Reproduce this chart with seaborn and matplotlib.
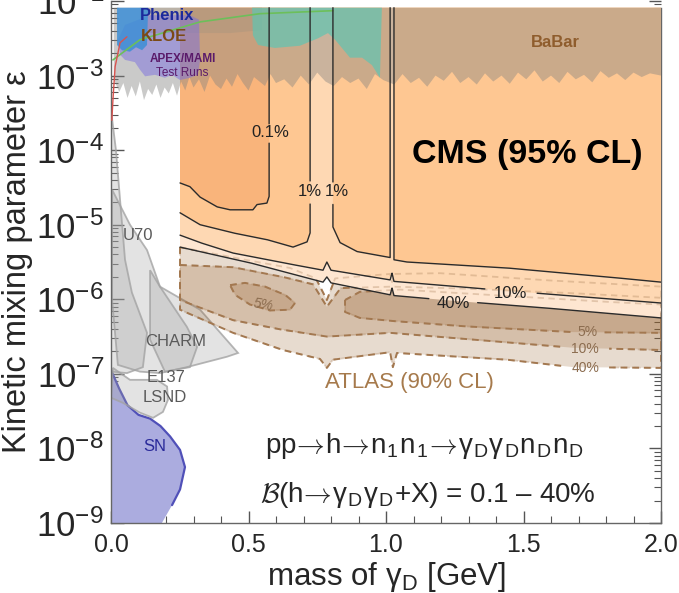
import numpy as np
import matplotlib
matplotlib.use("Agg")
import matplotlib.pyplot as plt
import seaborn as sns
from matplotlib.ticker import LogLocator, FuncFormatter, MultipleLocator, NullFormatter

# ---------------------------------------------------------------------------
# Data: dark-photon mass m (GeV) and log10 of the kinetic mixing epsilon
# ---------------------------------------------------------------------------
TOP = -2.09

# CMS 95% CL contours for B(h -> gD gD + X)
cms01_m = [0.251, 0.287, 0.324, 0.385, 0.433, 0.516, 0.531, 0.567, 0.575, 0.575]
cms01_le = [-4.44, -4.49, -4.63, -4.76, -4.80, -4.80, -4.73, -4.71, -4.62, TOP]

cms1a_m = [0.251, 0.324, 0.444, 0.567, 0.662, 0.713, 0.724, 0.724]
cms1a_le = [-4.84, -5.00, -5.11, -5.20, -5.30, -5.23, -5.11, TOP]
cms1b_m = [0.807, 0.807, 0.833, 0.895, 1.015, 1.015]
cms1b_le = [TOP, -5.03, -5.24, -5.36, -5.44, TOP]
cms1c_m = [1.029, 1.029, 1.076, 1.440, 1.804, 2.000]
cms1c_le = [TOP, -5.47, -5.50, -5.58, -5.70, -5.77]

cms10_m = [0.251, 0.324, 0.444, 0.625, 0.771, 0.785, 0.800, 1.015, 1.022, 1.029,
           1.196, 1.451, 2.000]
cms10_le = [-5.14, -5.24, -5.38, -5.51, -5.61, -5.50, -5.61, -5.74, -5.65, -5.76,
            -5.81, -5.89, -6.05]

cms40_m = [0.251, 0.505, 0.771, 0.785, 0.800, 1.015, 1.022, 1.029, 1.244, 1.560, 2.000]
cms40_le = [-5.30, -5.51, -5.77, -5.70, -5.78, -5.94, -5.85, -5.95, -6.02, -6.11, -6.25]

# ATLAS 90% CL bands (upper and lower edges)
atl40_up_m = [0.251, 0.444, 0.651, 0.745, 0.785, 0.815, 1.015, 1.022, 1.029, 1.196, 1.560, 2.000]
atl40_up_le = [-5.30, -5.44, -5.58, -5.72, -6.01, -5.72, -5.66, -5.77, -5.66, -5.65, -5.74, -5.83]
atl40_lo_m = [0.251, 0.444, 0.625, 0.760, 0.785, 0.807, 1.015, 1.025, 1.040, 1.440, 1.680, 2.000]
atl40_lo_le = [-6.14, -6.45, -6.68, -6.80, -6.92, -6.81, -6.71, -6.91, -6.72, -6.81, -6.91, -6.92]

atl10_up_m = [0.251, 0.444, 0.625, 0.735, 0.785, 0.835, 1.015, 1.233, 1.633, 2.000]
atl10_up_le = [-5.54, -5.57, -5.70, -5.80, -6.10, -5.85, -5.83, -5.85, -5.91, -5.98]
atl10_lo_m = [0.251, 0.444, 0.625, 0.785, 1.015, 1.316, 1.680, 2.000]
atl10_lo_le = [-6.01, -6.28, -6.41, -6.50, -6.45, -6.54, -6.65, -6.68]

atl5a_m = [0.433, 0.487, 0.560, 0.633, 0.669, 0.651, 0.578, 0.505, 0.451]
atl5a_le = [-5.81, -5.78, -5.83, -5.94, -6.05, -6.14, -6.15, -6.07, -5.94]
atl5b_m = [0.851, 0.905, 1.051, 1.415, 1.778, 2.000, 2.000, 1.680, 1.316, 1.051, 0.905, 0.851]
atl5b_le = [-6.01, -5.90, -5.87, -5.95, -6.03, -6.07, -6.45, -6.44, -6.37, -6.30, -6.25, -6.17]

# BaBar lower edge
babar_m = [0.010, 0.030, 0.045, 0.060, 0.075, 0.090, 0.105, 0.120, 0.135, 0.150,
           0.165, 0.180, 0.195, 0.210, 0.225, 0.240, 0.255, 0.270, 0.285, 0.300,
           0.320, 0.340, 0.360, 0.380, 0.400, 0.420, 0.440, 0.460, 0.480, 0.500,
           0.520, 0.540, 0.560, 0.580, 0.600, 0.630, 0.660, 0.690, 0.720, 0.750,
           0.780, 0.810, 0.840, 0.870, 0.900, 0.930, 0.960, 0.990, 1.030, 1.060,
           1.090, 1.120, 1.150, 1.180, 1.210, 1.240, 1.270, 1.300, 1.330, 1.360,
           1.390, 1.420, 1.450, 1.480, 1.510, 1.540, 1.570, 1.600, 1.630, 1.660,
           1.690, 1.720, 1.750, 1.780, 1.810, 1.840, 1.870, 1.900, 1.930, 1.960,
           2.000]
babar_le = [-3.05, -3.22, -3.10, -3.30, -3.14, -3.28, -3.08, -3.33, -3.18, -3.26,
            -3.12, -3.30, -3.16, -3.24, -3.10, -3.27, -3.08, -3.20, -3.02, -3.16,
            -3.05, -3.22, -3.00, -3.12, -3.18, -3.04, -3.15, -2.98, -3.10, -3.20,
            -3.02, -3.08, -3.14, -2.98, -3.10, -3.05, -3.16, -3.00, -3.12, -2.96,
            -3.08, -3.14, -3.02, -3.10, -3.04, -3.18, -2.98, -3.06, -3.12, -2.98,
            -3.10, -3.03, -3.15, -3.00, -3.07, -2.95, -3.10, -3.02, -3.12, -2.97,
            -3.08, -3.00, -3.11, -2.96, -3.05, -2.93, -3.08, -3.00, -3.10, -2.95,
            -3.05, -2.99, -3.09, -2.94, -3.03, -2.97, -3.06, -2.96, -3.02, -2.97,
            -3.00]

# Other experiments
teal_m = [0.513, 0.516, 0.535, 0.596, 0.687, 0.753, 0.789, 0.815, 0.869, 0.913, 0.949, 0.978, 0.985]
teal_le = [TOP, -2.46, -2.59, -2.63, -2.60, -2.50, -2.43, -2.52, -2.76, -2.76, -2.86, -3.03, TOP]
kloe_m = [0.105, 0.105, 0.127, 0.433, 0.549, 0.549]
kloe_le = [TOP, -2.32, -2.43, -2.43, -2.39, TOP]
phenix_m = [0.022, 0.022, 0.040, 0.069, 0.091, 0.113, 0.131, 0.135]
phenix_le = [TOP, -2.59, -2.66, -2.68, -2.62, -2.66, -2.59, TOP]
apex_m = [0.025, 0.033, 0.051, 0.087, 0.105, 0.124, 0.160, 0.196, 0.222, 0.251,
          0.287, 0.316, 0.324, 0.320, 0.287, 0.142, 0.051]
apex_le = [-2.52, -2.72, -2.79, -2.82, -2.92, -3.01, -2.99, -3.03, -2.99, -3.06,
           -3.03, -2.99, -2.79, -2.25, -2.19, -2.19, -2.32]
green_m = [0.007, 0.105, 0.324, 0.542, 0.807]
green_le = [-2.79, -2.52, -2.28, -2.17, -2.13]
red_m = [0.003, 0.007, 0.015, 0.033, 0.058]
red_le = [-3.60, -3.33, -2.88, -2.56, -2.48]

u70_m = [0.000, 0.018, 0.033, 0.051, 0.076, 0.131, 0.116, 0.058, 0.000]
u70_le = [-3.46, -4.00, -4.67, -5.47, -5.91, -6.45, -6.91, -6.99, -6.97]
charm_m = [0.004, 0.069, 0.131, 0.178, 0.324, 0.462, 0.422, 0.276, 0.178, 0.105, 0.025, 0.004]
charm_le = [-4.53, -5.00, -5.34, -5.83, -6.14, -6.72, -6.77, -6.91, -6.99, -6.97, -6.88, -6.01]
nucal_m = [0.142, 0.178, 0.276, 0.313, 0.287, 0.196, 0.142]
nucal_le = [-5.61, -5.83, -6.37, -6.64, -6.91, -6.97, -6.54]
e137_m = [0.007, 0.069, 0.167, 0.204, 0.207, 0.189, 0.153, 0.105, 0.044, 0.000]
e137_le = [-6.92, -7.08, -7.08, -7.17, -7.35, -7.51, -7.59, -7.52, -7.39, -7.32]
sn_m = [0.000, 0.030, 0.060, 0.100, 0.142, 0.180, 0.215, 0.251, 0.269, 0.251, 0.222, 0.185, 0.000]
sn_le = [-6.95, -7.20, -7.42, -7.55, -7.60, -7.70, -7.84, -8.02, -8.25, -8.55, -8.76, -9.00, -9.00]

x_ticks = [0.0, 0.5, 1.0, 1.5, 2.0]

# ---------------------------------------------------------------------------
sns.set_theme(style="ticks")
plt.rcParams["font.family"] = ["Liberation Sans", "DejaVu Sans"]
plt.rcParams["mathtext.fontset"] = "custom"
plt.rcParams["mathtext.rm"] = "Liberation Sans"
plt.rcParams["mathtext.it"] = "Liberation Sans:italic"
plt.rcParams["mathtext.bf"] = "Liberation Sans:bold"


def E(le):
    return 10.0 ** np.asarray(le, dtype=float)


def densify(m, le, n=40):
    m = np.asarray(m, float)
    le = np.asarray(le, float)
    xs, ys = [m[0]], [le[0]]
    t = np.linspace(0, 1, n)[1:]
    for i in range(len(m) - 1):
        xs.extend(m[i] + (m[i + 1] - m[i]) * t)
        ys.extend(le[i] + (le[i + 1] - le[i]) * t)
    return np.array(xs), np.array(ys)


def broken(m, le, boxes=()):
    x, y = densify(m, le)
    mask = np.zeros(len(x), bool)
    for m0, l0, dm, dl in boxes:
        mask |= (np.abs(x - m0) < dm) & (np.abs(y - l0) < dl)
    y = y.copy()
    y[mask] = np.nan
    return x, E(y)


fig = plt.figure(figsize=(6.79, 5.93), dpi=100)
ax = fig.add_axes([111 / 679, 70 / 593, 550 / 679, 522 / 593])
ax.set_yscale("log")
ax.set_xlim(0, 2)
ax.set_ylim(1e-9, 1e-2)

# supernova
ax.fill(sn_m, E(sn_le), color="#abacdf", lw=0, zorder=1)
sns.lineplot(x=sn_m[:-2], y=E(sn_le[:-2]), sort=False, estimator=None,
             color="#5050b8", lw=1.6, ax=ax, zorder=1.2)

# beam dump experiments
for pm, pl in [(u70_m, u70_le), (charm_m, charm_le), (nucal_m, nucal_le), (e137_m, e137_le)]:
    ax.fill(pm, E(pl), facecolor="#a4a4a4", alpha=0.30, edgecolor="none", zorder=2)
    ax.fill(pm, E(pl), facecolor="none", edgecolor="#a3a3a3", lw=1.3, alpha=0.8, zorder=2.1)

# ATLAS bands
atl_col = (150 / 255, 95 / 255, 40 / 255)
atl_line = "#a37850"
atl_label_boxes = [(1.731, -6.44, 0.06, 0.07), (1.724, -6.67, 0.085, 0.07), (1.724, -6.92, 0.085, 0.07)]
atl_polys = []
for um, ul, lm, ll in [(atl40_up_m, atl40_up_le, atl40_lo_m, atl40_lo_le),
                       (atl10_up_m, atl10_up_le, atl10_lo_m, atl10_lo_le)]:
    pm = list(um) + list(lm[::-1]) + [um[0]]
    pl = list(ul) + list(ll[::-1]) + [ul[0]]
    atl_polys.append((pm, pl))
atl_polys.append((atl5a_m + atl5a_m[:1], atl5a_le + atl5a_le[:1]))
atl_polys.append((atl5b_m + atl5b_m[:1], atl5b_le + atl5b_le[:1]))
for pm, pl in atl_polys:
    ax.fill(pm, E(pl), color=atl_col, alpha=0.22, lw=0, zorder=3)
    x, y = broken(pm, pl, atl_label_boxes)
    ax.plot(x, y, color=atl_line, lw=1.4, ls=(0, (3.5, 2.5)), zorder=3.5)

# CMS regions
c40, c10, c1, c01 = "#fee6d1", "#fed8b3", "#fec792", "#f9b47b"
ax.fill([0.251] + cms40_m + [2.0], E([TOP] + cms40_le + [TOP]), color=c40, lw=0, zorder=4)
ax.fill([0.251] + cms10_m + [2.0], E([TOP] + cms10_le + [TOP]), color=c10, lw=0, zorder=4.1)
ax.fill([0.251] + cms1a_m, E([TOP] + cms1a_le), color=c1, lw=0, zorder=4.2)
ax.fill(cms1b_m, E(cms1b_le), color=c1, lw=0, zorder=4.2)
ax.fill(cms1c_m + [2.0], E(cms1c_le + [TOP]), color=c1, lw=0, zorder=4.2)
ax.fill([0.251] + cms01_m, E([TOP] + cms01_le), color=c01, lw=0, zorder=4.3)

# ATLAS edges faintly visible through the CMS area
for pm, pl in atl_polys:
    x, y = broken(pm, pl, atl_label_boxes)
    ax.plot(x, y, color=atl_line, lw=1.3, ls=(0, (3.5, 2.5)), alpha=0.3, zorder=4.5)

# BaBar
ax.fill(babar_m + [2.0, 0.010], E(babar_le + [TOP, TOP]),
        color=(0.51, 0.51, 0.50), alpha=0.42, lw=0, zorder=5)

# top-left experiments
ax.fill(kloe_m, E(kloe_le), color="#a8957e", alpha=0.45, lw=0, zorder=5.1)
ax.fill(teal_m, E(teal_le), color="#62c4b1", alpha=0.72, lw=0, zorder=5.2)
ax.fill(apex_m, E(apex_le), color="#7b6fe0", alpha=0.5, lw=0, zorder=5.3)
ax.fill(phenix_m, E(phenix_le), color="#3d8fd6", alpha=0.85, lw=0, zorder=5.4)
sns.lineplot(x=green_m, y=E(green_le), sort=False, estimator=None,
             color="#6cbf5a", lw=1.2, ax=ax, zorder=5.5)
sns.lineplot(x=red_m, y=E(red_le), sort=False, estimator=None,
             color="#d9534f", lw=1.0, ax=ax, zorder=5.5)

# CMS contour lines
cms_boxes = [(0.578, -3.77, 0.06, 0.11), (0.724, -4.56, 0.05, 0.11),
             (0.822, -4.56, 0.05, 0.11), (1.451, -5.92, 0.085, 0.09),
             (1.244, -6.05, 0.085, 0.09)]
for lm, ll in [(cms01_m, cms01_le), (cms1a_m, cms1a_le), (cms1b_m, cms1b_le),
               (cms1c_m, cms1c_le), (cms10_m, cms10_le), (cms40_m, cms40_le)]:
    x, y = broken(lm, ll, cms_boxes)
    ax.plot(x, y, color="#2b2b2b", lw=1.0, zorder=6)

# labels
tk = dict(ha="center", va="center", zorder=10)
ax.text(0.578, E(-3.77), "0.1%", fontsize=12, color="#222222", **tk)
ax.text(0.724, E(-4.56), "1%", fontsize=12, color="#222222", **tk)
ax.text(0.822, E(-4.56), "1%", fontsize=12, color="#222222", **tk)
ax.text(1.451, E(-5.92), "10%", fontsize=12, color="#222222", **tk)
ax.text(1.244, E(-6.05), "40%", fontsize=12, color="#222222", **tk)
ax.text(1.513, E(-4.06), "CMS (95% CL)", fontsize=24.5, fontweight="bold", color="black", **tk)
ax.text(1.615, E(-2.55), "BaBar", fontsize=12, fontweight="bold", color="#8f5d2d", **tk)

ac = "#8c6d50"
ax.text(0.553, E(-6.07), "5%", fontsize=10, color=ac, style="italic", rotation=-10, **tk)
ax.text(1.731, E(-6.44), "5%", fontsize=10, color=ac, **tk)
ax.text(1.724, E(-6.67), "10%", fontsize=10, color=ac, **tk)
ax.text(1.724, E(-6.92), "40%", fontsize=10, color=ac, **tk)
ax.text(1.087, E(-7.12), "ATLAS (90% CL)", fontsize=16, color="#a67a4c", **tk)

gc = "#5a5a5a"
ax.text(0.098, E(-5.15), "U70", fontsize=12, color=gc, **tk)
ax.text(0.236, E(-6.56), "CHARM", fontsize=12, color=gc, **tk)
ax.text(0.200, E(-7.05), "E137", fontsize=12, color=gc, **tk)
ax.text(0.196, E(-7.32), "LSND", fontsize=12, color=gc, **tk)
ax.text(0.160, E(-7.97), "SN", fontsize=12, color="#2a2a9a", **tk)

ax.text(0.204, E(-2.20), "Phenix", fontsize=12, fontweight="bold", color="#1c2a9c", **tk)
ax.text(0.193, E(-2.47), "KLOE", fontsize=12, fontweight="bold", color="#7b4a16", **tk)
ax.text(0.262, E(-2.78), "APEX/MAMI", fontsize=8.5, fontweight="bold", color="#5a1a6a", **tk)
ax.text(0.258, E(-2.97), "Test Runs", fontsize=8.5, color="#5a1a6a", **tk)

sub = r"$_\mathregular{%s}$"
arr = r"$\!\rightarrow\!$"
proc = ("pp" + arr + "h" + arr + "n" + sub % "1" + "n" + sub % "1" + arr + "γ" + sub % "D"
        + "γ" + sub % "D" + "n" + sub % "D" + "n" + sub % "D")
ax.text(1.142, E(-8.06), proc, fontsize=20, ha="center", va="baseline",
        math_fontfamily="cm", zorder=10)
br = r"$\mathcal{B}$(h" + arr + "γ" + sub % "D" + "γ" + sub % "D" + "+X) = 0.1 – 40%"
ax.text(1.151, E(-8.72), br, fontsize=20, ha="center", va="baseline",
        math_fontfamily="cm", zorder=10)

# axes styling
ax.yaxis.set_major_locator(LogLocator(base=10, numticks=20))
ax.yaxis.set_minor_locator(LogLocator(base=10, subs=np.arange(2, 10), numticks=100))
ax.yaxis.set_major_formatter(FuncFormatter(lambda v, p: r"$\mathregular{10^{%d}}$" % round(np.log10(v))))
ax.yaxis.set_minor_formatter(NullFormatter())
ax.set_xticks(x_ticks)
ax.set_xticklabels(["%.1f" % t for t in x_ticks])
ax.xaxis.set_minor_locator(MultipleLocator(0.1))
ax.tick_params(axis="both", which="both", direction="in", right=True, top=False,
               color="#555555")
ax.tick_params(axis="both", which="major", length=9, width=1.0)
ax.tick_params(axis="both", which="minor", length=5, width=0.8)
ax.tick_params(axis="y", which="major", labelsize=25, pad=5)
ax.tick_params(axis="x", which="major", labelsize=18, pad=7)
for s in ["left", "right", "bottom"]:
    ax.spines[s].set_color("#666666")
    ax.spines[s].set_linewidth(1.0)
ax.spines["right"].set_bounds(1e-9, E(TOP))
ax.spines["top"].set_visible(False)
ax.set_ylabel("Kinetic mixing parameter ε", fontsize=23.5, labelpad=2)
ax.set_xlabel(r"mass of $\mathregular{γ_D}$ [GeV]", fontsize=22.5, labelpad=2)

fig.savefig("out.png", dpi=100)
